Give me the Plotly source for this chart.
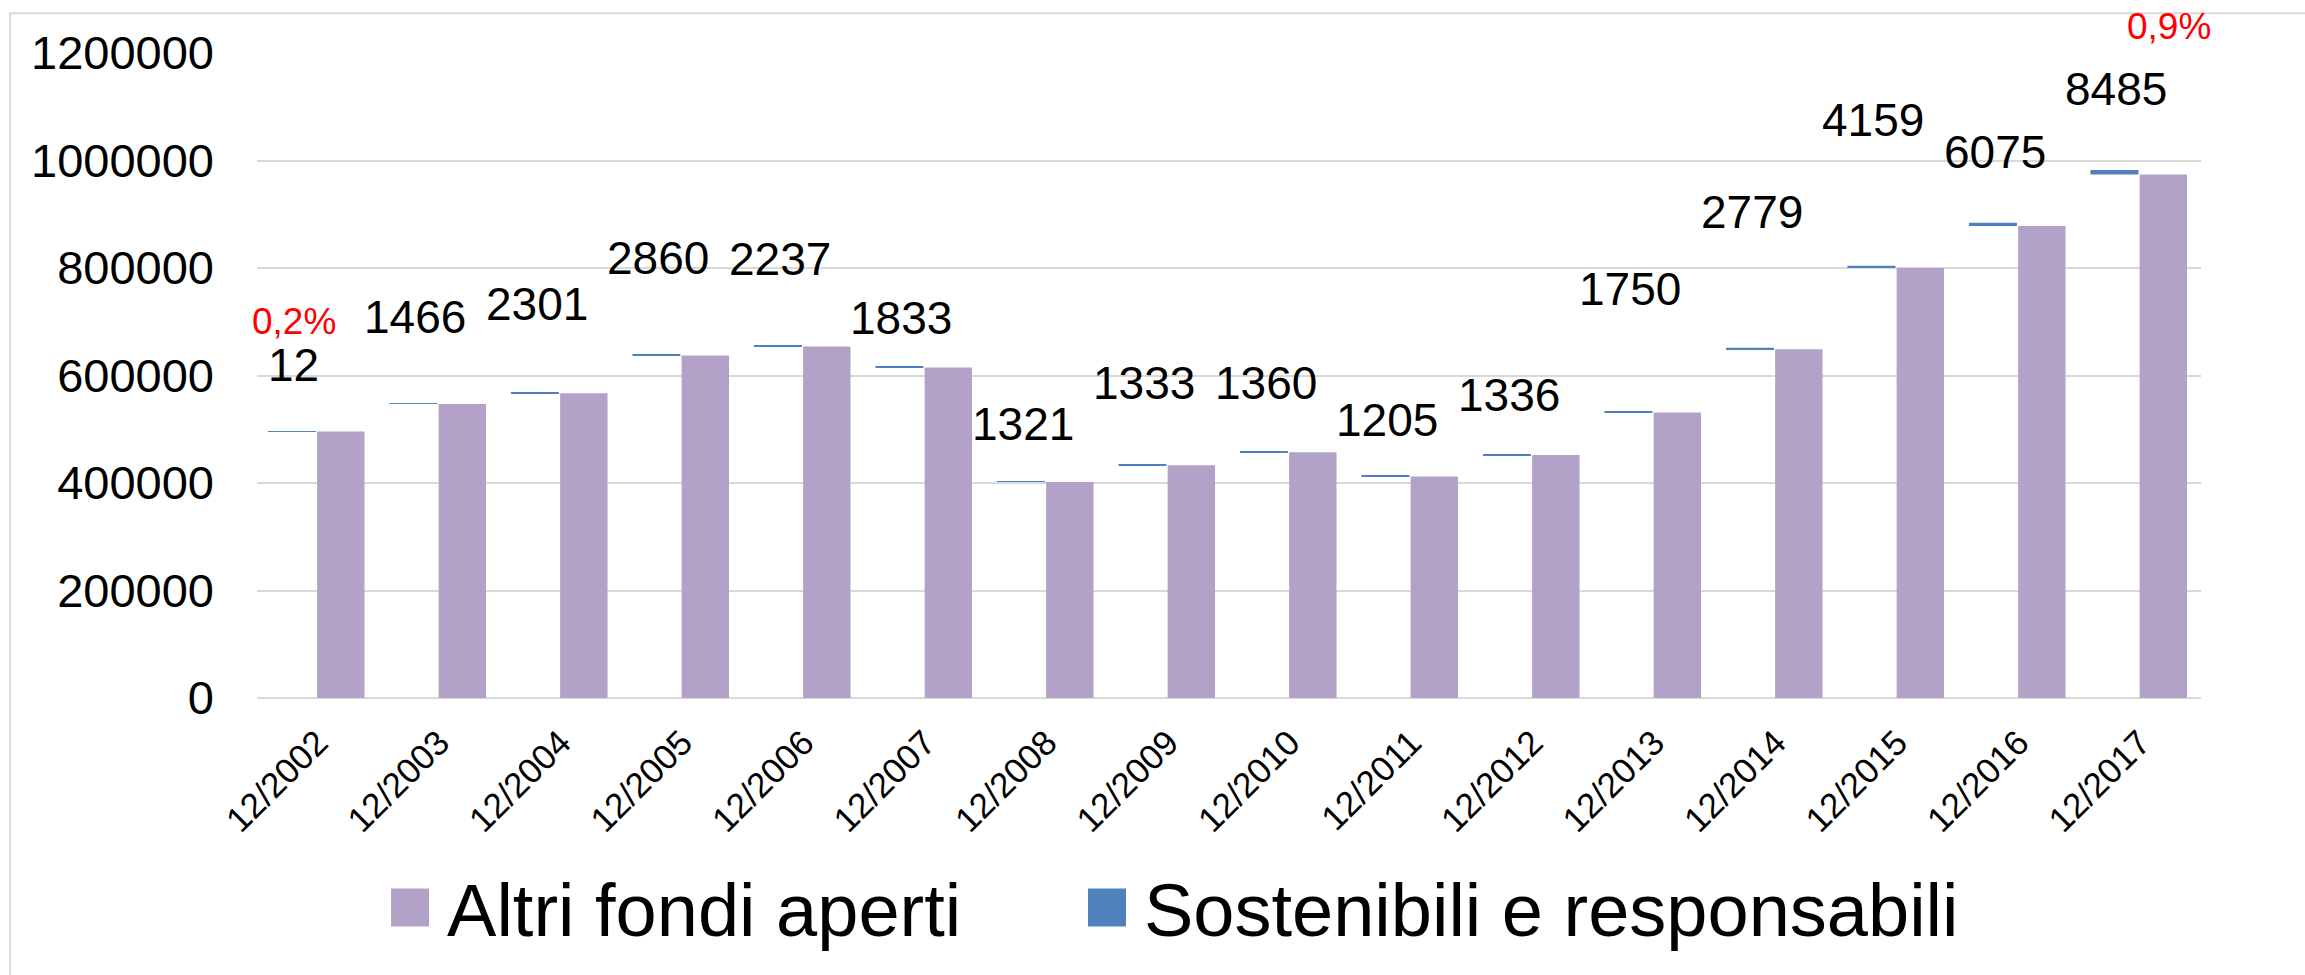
import plotly.graph_objects as go

# ---- data ----
categories = ["12/2002", "12/2003", "12/2004", "12/2005", "12/2006", "12/2007",
              "12/2008", "12/2009", "12/2010", "12/2011", "12/2012", "12/2013",
              "12/2014", "12/2015", "12/2016", "12/2017"]
altri_fondi = [496000, 547000, 567000, 637000, 654000, 615000, 402000, 433000,
               457000, 412000, 452000, 531000, 649000, 800000, 878000, 974000]
sostenibili = [12, 1466, 2301, 2860, 2237, 1833, 1321, 1333, 1360, 1205, 1336,
               1750, 2779, 4159, 6075, 8485]
share_first = "0,2%"
share_last = "0,9%"

# ---- label placement (layout only, data units) ----
label_y = [620000, 709000, 733000, 818500, 816700, 707400, 509300, 585200,
           585200, 516700, 563000, 761100, 903700, 1075900, 1016700, 1133300]

PURPLE = "#B3A2C7"
BLUE = "#4F81BD"
FONT = "Liberation Sans, Arial, sans-serif"

fig = go.Figure()
fig.add_trace(go.Bar(
    x=categories, y=altri_fondi, name="Altri fondi aperti",
    marker=dict(color=PURPLE, line=dict(width=0)),
    offset=-0.005, width=0.39, legend="legend",
))
fig.add_trace(go.Bar(
    x=categories, y=sostenibili, base=altri_fondi,
    name="Sostenibili e responsabili",
    marker=dict(color=BLUE, line=dict(width=0)),
    offset=-0.41, width=0.395, legend="legend2",
))

annotations = []
for cat, val, ly in zip(categories, sostenibili, label_y):
    annotations.append(dict(
        x=cat, y=ly, xref="x", yref="y", text=str(val), showarrow=False,
        xshift=-24, font=dict(size=46, color="black", family=FONT),
        xanchor="center", yanchor="middle",
    ))
annotations.append(dict(
    x=categories[0], y=700000, xref="x", yref="y", text=share_first,
    showarrow=False, xshift=-24, font=dict(size=37, color="#FF0000", family=FONT),
    xanchor="center", yanchor="middle",
))
annotations.append(dict(
    x=categories[-1], y=1.0417, xref="x", yref="paper", text=share_last,
    showarrow=False, xshift=29, font=dict(size=37, color="#FF0000", family=FONT),
    xanchor="center", yanchor="middle",
))

legend_common = dict(
    orientation="h", xanchor="left", y=-0.3256, yanchor="middle",
    font=dict(size=74, color="black", family=FONT),
    itemwidth=64,
    bgcolor="rgba(0,0,0,0)", itemclick=False, itemdoubleclick=False,
)

fig.update_layout(
    width=2305, height=975,
    margin=dict(l=257, r=104, t=53, b=274),
    paper_bgcolor="white", plot_bgcolor="white",
    barmode="overlay",
    font=dict(family=FONT, color="black"),
    showlegend=True,
    legend=dict(x=0.0597, **legend_common),
    legend2=dict(x=0.4182, **legend_common),
    annotations=annotations,
    shapes=[dict(type="rect", xref="paper", yref="paper",
                 x0=-0.127, x1=1.2, y0=-0.6, y1=1.0617,
                 line=dict(color="#D9D9D9", width=2), fillcolor="rgba(0,0,0,0)",
                 layer="below")],
)
fig.update_xaxes(
    type="category", range=[-0.5, 15.5], tickangle=-45, showgrid=False,
    showline=False, ticks="", ticklabelstandoff=16,
    tickfont=dict(size=35, color="black", family=FONT),
)
fig.update_yaxes(
    range=[0, 1200000], tickmode="array",
    tickvals=[0, 200000, 400000, 600000, 800000, 1000000, 1200000],
    ticktext=["0", "200000", "400000", "600000", "800000", "1000000", "1200000"],
    showgrid=True, gridcolor="#D9D9D9", gridwidth=2,
    zeroline=True, zerolinecolor="#D9D9D9", zerolinewidth=2,
    showline=False, ticks="", ticklabelstandoff=42,
    tickfont=dict(size=47, color="black", family=FONT),
)

post = """
document.body.style.margin='0';
var BIG = 'M19,19H-19V-19H19Z';
function fixLegend(){
  document.querySelectorAll('.legendpoints path').forEach(function(p){
    if (p.getAttribute('d') !== BIG) { p.setAttribute('d', BIG); }
  });
}
fixLegend();
try {
  var obs = new MutationObserver(function(){ fixLegend(); });
  obs.observe(document.body, {subtree: true, childList: true, attributes: true, attributeFilter: ['d']});
} catch(e) {}
setTimeout(fixLegend, 50);
setTimeout(fixLegend, 300);
"""
fig.write_html("out.html", post_script=post, config={"displayModeBar": False})
